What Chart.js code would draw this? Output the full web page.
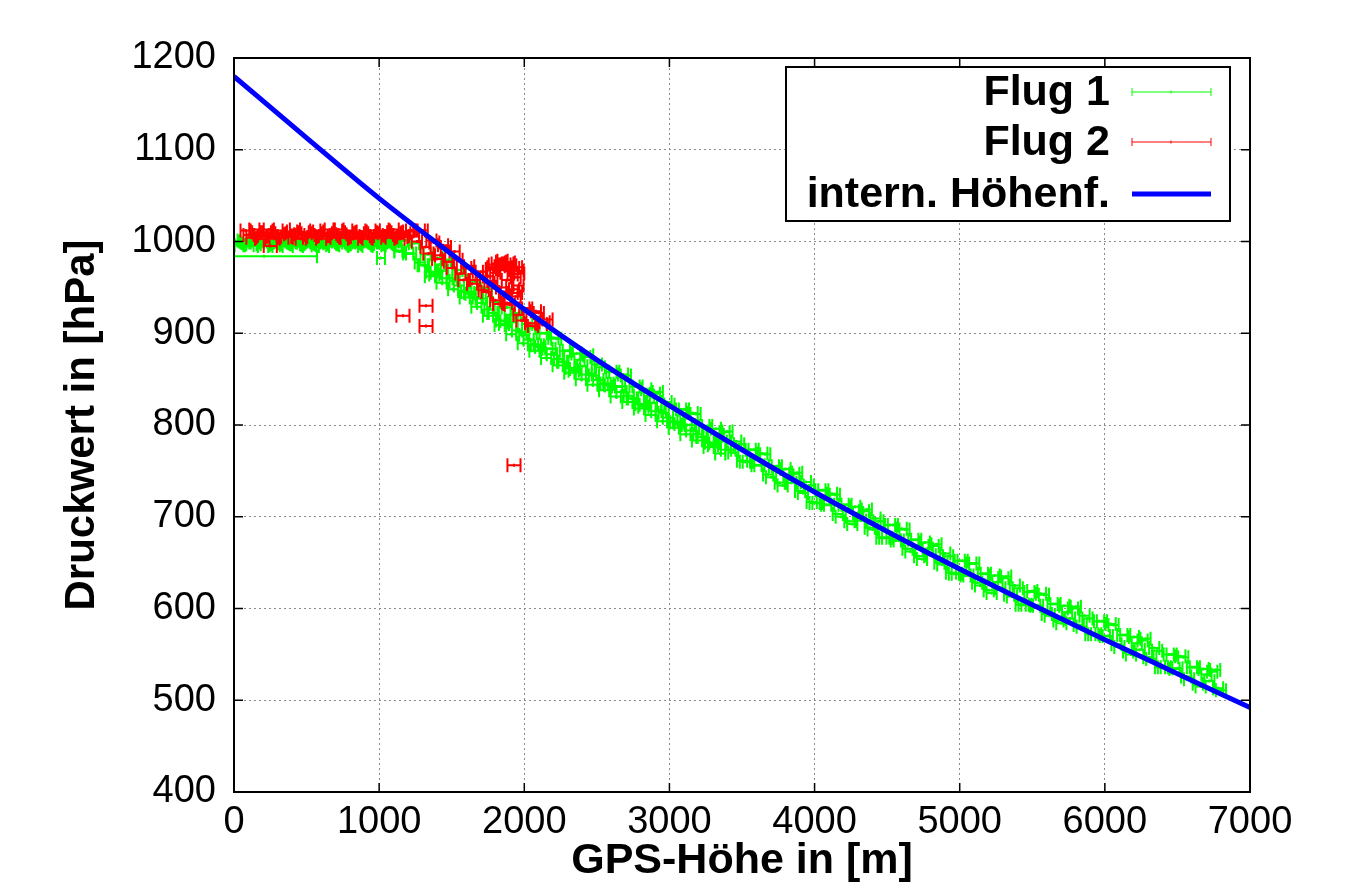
<!DOCTYPE html>
<html>
<head>
<meta charset="utf-8">
<script src="https://cdn.jsdelivr.net/npm/chart.js@4.4.1/dist/chart.umd.min.js"></script>
<style>
  html, body { margin: 0; padding: 0; background: #fff; }
  canvas { display: block; }
</style>
</head>
<body>
<canvas id="druckChart" width="1354" height="892"></canvas>
<script>
// Flug 1: GPS-Hoehe [m] / Druckwert [hPa], Messreihe a
var flug1Alt = [
  0, 40, 80, 120, 160, 200, 240, 280, 320, 360, 400, 440, 480, 520, 560, 600, 640, 680, 720, 760,
  800, 840, 880, 920, 960, 1000, 1040, 1080, 1120, 1160, 1200, 1240, 1280, 1320, 1360, 1400, 1440, 1480, 1520, 1560,
  1600, 1640, 1680, 1720, 1760, 1800, 1840, 1880, 1920, 1960, 2000, 2040, 2080, 2120, 2160, 2200, 2240, 2280, 2320, 2360,
  2400, 2440, 2480, 2520, 2560, 2600, 2640, 2680, 2720, 2760, 2800, 2840, 2880, 2920, 2960, 3000, 3040, 3080, 3120, 3160,
  3200, 3240, 3280, 3320, 3360, 3400, 3440, 3480, 3520, 3560, 3600, 3640, 3680, 3720, 3760, 3800, 3840, 3880, 3920, 3960,
  4000, 4040, 4080, 4120, 4160, 4200, 4240, 4280, 4320, 4360, 4400, 4440, 4480, 4520, 4560, 4600, 4640, 4680, 4720, 4760,
  4800, 4840, 4880, 4920, 4960, 5000, 5040, 5080, 5120, 5160, 5200, 5240, 5280, 5320, 5360, 5400, 5440, 5480, 5520, 5560,
  5600, 5640, 5680, 5720, 5760, 5800, 5840, 5880, 5920, 5960, 6000, 6040, 6080, 6120, 6160, 6200, 6240, 6280, 6320, 6360,
  6400, 6440, 6480, 6520, 6560, 6600, 6640, 6680, 6720, 6760, 6800
];
var flug1P = [
  1000, 996, 999, 997, 1001, 995, 999, 996, 1000, 997, 999, 995, 1001, 997, 999, 996, 1000, 997, 1001, 996,
  999, 997, 1000, 995, 999, 997, 1000, 996, 998, 1001, 987, 998, 977, 986, 967, 982, 968, 980, 957, 965,
  945, 957, 939, 950, 926, 934, 914, 928, 912, 922, 898, 906, 887, 900, 883, 895, 872, 881, 862, 878,
  864, 876, 854, 863, 845, 858, 842, 855, 832, 842, 823, 839, 824, 836, 813, 822, 803, 817, 800, 813,
  790, 799, 781, 796, 782, 793, 770, 779, 760, 773, 756, 769, 746, 755, 737, 752, 737, 748, 726, 734,
  715, 729, 713, 725, 703, 713, 695, 711, 696, 708, 686, 695, 677, 691, 674, 687, 665, 675, 657, 672,
  658, 670, 648, 657, 638, 652, 636, 649, 628, 638, 620, 636, 622, 635, 613, 622, 604, 618, 603, 616,
  594, 605, 587, 603, 589, 602, 580, 589, 572, 586, 570, 583, 561, 571, 553, 569, 555, 567, 545, 554,
  536, 550, 534, 548, 526, 536, 518, 534, 521, 533, 511
];
// Flug 1, Messreihe b
var flug1bAlt = [
  20, 60, 100, 140, 180, 220, 260, 300, 340, 380, 420, 460, 500, 540, 580, 620, 660, 700, 740, 780,
  820, 860, 900, 940, 980, 1020, 1060, 1100, 1140, 1180, 1220, 1260, 1300, 1340, 1380, 1420, 1460, 1500, 1540, 1580,
  1620, 1660, 1700, 1740, 1780, 1820, 1860, 1900, 1940, 1980, 2020, 2060, 2100, 2140, 2180, 2220, 2260, 2300, 2340, 2380,
  2420, 2460, 2500, 2540, 2580, 2620, 2660, 2700, 2740, 2780, 2820, 2860, 2900, 2940, 2980, 3020, 3060, 3100, 3140, 3180,
  3220, 3260, 3300, 3340, 3380, 3420, 3460, 3500, 3540, 3580, 3620, 3660, 3700, 3740, 3780, 3820, 3860, 3900, 3940, 3980,
  4020, 4060, 4100, 4140, 4180, 4220, 4260, 4300, 4340, 4380, 4420, 4460, 4500, 4540, 4580, 4620, 4660, 4700, 4740, 4780,
  4820, 4860, 4900, 4940, 4980, 5020, 5060, 5100, 5140, 5180, 5220, 5260, 5300, 5340, 5380, 5420, 5460, 5500, 5540, 5580,
  5620, 5660, 5700, 5740, 5780, 5820, 5860, 5900, 5940, 5980, 6020, 6060, 6100, 6140, 6180, 6220, 6260, 6300, 6340, 6380,
  6420, 6460, 6500, 6540, 6580, 6620, 6660, 6700, 6740, 6780
];
var flug1bP = [
  998, 1001, 996, 999, 1002, 997, 1000, 995, 998, 1001, 997, 999, 996, 1000, 998, 995, 999, 1001, 997, 999,
  995, 1000, 998, 1001, 996, 999, 997, 1000, 989, 1001, 987, 999, 974, 986, 964, 975, 978, 960, 969, 946,
  944, 956, 938, 948, 922, 933, 910, 920, 921, 901, 910, 888, 887, 900, 883, 894, 869, 881, 859, 871,
  874, 856, 866, 845, 845, 858, 842, 854, 829, 842, 820, 832, 834, 816, 825, 804, 803, 817, 800, 812,
  787, 799, 778, 789, 792, 773, 782, 761, 760, 773, 756, 768, 743, 755, 734, 745, 747, 728, 738, 716,
  715, 729, 713, 724, 700, 713, 692, 704, 706, 688, 698, 677, 677, 691, 674, 686, 662, 675, 654, 665,
  668, 650, 660, 639, 638, 652, 636, 649, 625, 638, 617, 629, 633, 615, 625, 604, 604, 619, 603, 615,
  592, 605, 584, 596, 600, 582, 592, 572, 572, 586, 570, 582, 558, 571, 550, 562, 565, 547, 557, 536,
  536, 550, 535, 547, 523, 536, 515, 528, 531, 513
];
// Flug 1, Messreihe c (Steigflug, untere Werte)
var flug1cAlt = [
  1310, 1350, 1390, 1430, 1470, 1510, 1550, 1590, 1630, 1670, 1710, 1750, 1790, 1830, 1870, 1910, 1950, 1990, 2030, 2070,
  2110, 2150, 2190, 2230, 2270, 2310, 2350, 2390, 2430, 2470, 2510, 2550, 2590, 2630, 2670, 2710, 2750, 2790, 2830, 2870,
  2910, 2950, 2990, 3030, 3070, 3110, 3150, 3190, 3230, 3270, 3310, 3350, 3390
];
var flug1cP = [
  974, 962, 966, 955, 960, 948, 952, 939, 943, 929, 933, 919, 922, 909, 913, 899, 903, 889, 893, 881,
  885, 873, 877, 865, 869, 857, 861, 850, 855, 844, 849, 838, 843, 831, 836, 825, 829, 818, 822, 811,
  815, 804, 808, 797, 801, 790, 794, 783, 787, 776, 780, 769, 773
];
var flug1Err = 35;
// Ausreisser Flug 1 (eigene Fehlergrenzen)
var flug1ExtraAlt = [207, 1010, 1130];
var flug1ExtraP = [984, 982, 990];
var flug1ExtraLo = [0, 985, 1105];
var flug1ExtraHi = [572, 1040, 1160];

// Flug 2, Messreihe a
var flug2Alt = [
  80, 120, 160, 200, 240, 280, 320, 360, 400, 440, 480, 520, 560, 600, 640, 680, 720, 760, 800, 840,
  880, 920, 960, 1000, 1040, 1080, 1120, 1160, 1200, 1240, 1280, 1320, 1360, 1400, 1440, 1480, 1520, 1560, 1600, 1640,
  1680, 1720, 1760, 1800, 1840, 1880, 1920, 1960, 2000, 2040, 2080, 2120, 2160,
  1780, 1810, 1840, 1870, 1900, 1930, 1960, 1800, 1860, 1920, 1930, 1950
];
var flug2P = [
  1012, 1004, 1010, 1006, 1013, 1003, 1009, 1005, 1011, 1004, 1010, 1007, 1012, 1003, 1009, 1006, 1013, 1004, 1010, 1005,
  1011, 1003, 1009, 1006, 1012, 1004, 1010, 1005, 1011, 1006, 1012, 994, 1001, 981, 996, 978, 989, 965, 971, 954,
  967, 947, 955, 936, 950, 933, 944, 920, 927, 911, 924, 910, 915,
  972, 976, 978, 975, 977, 971, 968, 966, 969, 964, 948, 944
];
// Flug 2, Messreihe b
var flug2bAlt = [
  100, 140, 180, 220, 260, 300, 340, 380, 420, 460, 500, 540, 580, 620, 660, 700, 740, 780, 820, 860,
  900, 940, 980, 1020, 1060, 1100, 1140, 1180, 1220, 1260, 1300, 1340, 1380, 1420, 1460, 1500, 1540, 1580, 1620, 1660,
  1700, 1740, 1780, 1820, 1860, 1900, 1940, 1980, 2020, 2060, 2100, 2140,
  1750, 1770, 1790, 1830, 1850, 1890, 1910, 1950, 1965, 1880, 1940, 1960
];
var flug2bP = [
  1007, 1013, 1003, 1010, 1005, 1012, 1004, 1008, 1013, 1003, 1009, 1005, 1011, 1006, 1013, 1004, 1008, 1012, 1003, 1009,
  1006, 1012, 1004, 1010, 1007, 1013, 1003, 1009, 1012, 1000, 1012, 987, 999, 985, 994, 971, 980, 958, 973, 958,
  967, 945, 957, 932, 945, 931, 940, 914, 927, 908, 922, 912,
  962, 970, 975, 973, 979, 976, 974, 972, 965, 958, 961, 952
];
var flug2Err = 35;
var flug2ExtraAlt = [250, 1164, 1323, 1323, 1929];
var flug2ExtraP = [995, 919, 930, 908, 756];
var flug2ExtraLo = [205, 1119, 1278, 1278, 1884];
var flug2ExtraHi = [295, 1209, 1368, 1368, 1974];

// interne Hoehenformel
var hoehenAlt = [0, 500, 1000, 1500, 2000, 2500, 3000, 3500, 4000, 4500, 5000, 5500, 6000, 6500, 7000];
var hoehenP = [1180, 1113, 1047, 986, 926, 871, 821, 773, 727, 684, 643, 604, 566, 529, 492];

var xTicks = [0, 1000, 2000, 3000, 4000, 5000, 6000, 7000];
var yTicks = [400, 500, 600, 700, 800, 900, 1000, 1100, 1200];

function errPoints(series, err, exAlt, exP, exLo, exHi) {
    var pts = [];
    series.forEach(function (s) {
        s[0].forEach(function (a, i) {
            pts.push({ x: a, y: s[1][i], xMin: a - err, xMax: a + err });
        });
    });
    exAlt.forEach(function (a, i) {
        pts.push({ x: a, y: exP[i], xMin: exLo[i], xMax: exHi[i] });
    });
    return pts;
}

var FONT = "'Liberation Sans', Arial, sans-serif";
var CAP = 7;

var errorBars = {
    id: 'errorBars',
    beforeDatasetsDraw: function (chart) {
        var ctx = chart.ctx, area = chart.chartArea;
        var xs = chart.scales.x, ys = chart.scales.y;
        ctx.save();
        ctx.beginPath();
        ctx.rect(area.left, area.top, area.right - area.left, area.bottom - area.top);
        ctx.clip();
        chart.data.datasets.forEach(function (ds) {
            if (!ds.errorBars) return;
            ctx.strokeStyle = ds.borderColor;
            ctx.lineWidth = ds.borderWidth;
            ds.data.forEach(function (pt) {
                var x0 = xs.getPixelForValue(pt.xMin);
                var x1 = xs.getPixelForValue(pt.xMax);
                var px = xs.getPixelForValue(pt.x);
                var py = ys.getPixelForValue(pt.y);
                ctx.beginPath();
                ctx.moveTo(x0, py); ctx.lineTo(x1, py);
                ctx.moveTo(x0, py - CAP); ctx.lineTo(x0, py + CAP);
                ctx.moveTo(x1, py - CAP); ctx.lineTo(x1, py + CAP);
                ctx.moveTo(px, py - 1.5); ctx.lineTo(px, py + 1.5);
                ctx.stroke();
            });
        });
        ctx.restore();
    }
};

// Rahmen, Ticks nach innen und Legende wie bei gnuplot
var frameAndLegend = {
    id: 'frameAndLegend',
    afterDraw: function (chart) {
        var ctx = chart.ctx, a = chart.chartArea;
        var xs = chart.scales.x, ys = chart.scales.y;
        ctx.save();
        ctx.strokeStyle = '#000';
        ctx.lineWidth = 1.5;
        ctx.beginPath();
        xTicks.forEach(function (v) {
            var px = xs.getPixelForValue(v);
            ctx.moveTo(px, a.bottom); ctx.lineTo(px, a.bottom - 9);
            ctx.moveTo(px, a.top); ctx.lineTo(px, a.top + 9);
        });
        yTicks.forEach(function (v) {
            var py = ys.getPixelForValue(v);
            ctx.moveTo(a.left, py); ctx.lineTo(a.left + 9, py);
            ctx.moveTo(a.right, py); ctx.lineTo(a.right - 9, py);
        });
        ctx.stroke();

        // Legende
        var bx = 786, by = 67, bw = 444, bh = 154;
        ctx.fillStyle = '#fff';
        ctx.fillRect(bx, by, bw, bh);
        ctx.lineWidth = 2;
        ctx.strokeRect(bx, by, bw, bh);
        var rows = [92, 142, 194];
        chart.data.datasets.forEach(function (ds, i) {
            var ry = rows[i];
            ctx.fillStyle = '#000';
            ctx.font = 'bold 43px ' + FONT;
            ctx.textAlign = 'right';
            ctx.textBaseline = 'middle';
            ctx.fillText(ds.label, 1110, ry + 1);
            ctx.strokeStyle = ds.borderColor;
            if (ds.errorBars) {
                ctx.lineWidth = 1;
                ctx.beginPath();
                ctx.moveTo(1132, ry); ctx.lineTo(1211, ry);
                ctx.moveTo(1132, ry - 4); ctx.lineTo(1132, ry + 4);
                ctx.moveTo(1211, ry - 4); ctx.lineTo(1211, ry + 4);
                ctx.moveTo(1171, ry - 1.5); ctx.lineTo(1171, ry + 1.5);
                ctx.stroke();
            } else {
                ctx.lineWidth = ds.borderWidth;
                ctx.beginPath();
                ctx.moveTo(1132, ry); ctx.lineTo(1211, ry);
                ctx.stroke();
            }
        });

        ctx.strokeStyle = '#000';
        ctx.lineWidth = 2;
        ctx.strokeRect(a.left, a.top, a.right - a.left, a.bottom - a.top);
        ctx.restore();
    }
};

var ctx = document.getElementById('druckChart');
var myChart = new Chart(ctx, {
    type: 'scatter',
    data: {
        datasets: [
            {
                label: 'Flug 1',
                data: errPoints([[flug1Alt, flug1P], [flug1bAlt, flug1bP], [flug1cAlt, flug1cP]], flug1Err,
                    flug1ExtraAlt, flug1ExtraP, flug1ExtraLo, flug1ExtraHi),
                borderColor: '#00ff00',
                borderWidth: 2,
                pointRadius: 0,
                showLine: false,
                errorBars: true
            },
            {
                label: 'Flug 2',
                data: errPoints([[flug2Alt, flug2P], [flug2bAlt, flug2bP]], flug2Err,
                    flug2ExtraAlt, flug2ExtraP, flug2ExtraLo, flug2ExtraHi),
                borderColor: '#ff0000',
                borderWidth: 2,
                pointRadius: 0,
                showLine: false,
                errorBars: true
            },
            {
                label: 'intern. Höhenf.',
                data: hoehenAlt.map(function (a, i) { return { x: a, y: hoehenP[i] }; }),
                borderColor: '#0000ff',
                borderWidth: 5,
                pointRadius: 0,
                showLine: true,
                cubicInterpolationMode: 'monotone'
            }
        ]
    },
    options: {
        responsive: false,
        animation: false,
        events: [],
        layout: { padding: { top: 58, right: 104, left: 0, bottom: 0 } },
        plugins: {
            legend: { display: false },
            tooltip: { enabled: false }
        },
        scales: {
            x: {
                type: 'linear',
                min: 0,
                max: 7000,
                afterFit: function (s) { s.height = 100; },
                afterBuildTicks: function (s) { s.ticks = xTicks.map(function (v) { return { value: v }; }); },
                ticks: {
                    color: '#000', font: { family: FONT, size: 38 }, padding: 8, maxRotation: 0,
                    callback: function (v) { return String(v); }
                },
                grid: { color: '#8a8a8a', lineWidth: 1, drawTicks: false },
                border: { display: false, dash: [2, 3] },
                title: {
                    display: true,
                    text: 'GPS-Höhe in [m]',
                    color: '#000',
                    font: { family: FONT, size: 43, weight: 'bold', lineHeight: 1.2 },
                    padding: { top: 0, bottom: 5 }
                }
            },
            y: {
                type: 'linear',
                min: 400,
                max: 1200,
                afterFit: function (s) { s.width = 234; },
                afterBuildTicks: function (s) { s.ticks = yTicks.map(function (v) { return { value: v }; }); },
                ticks: {
                    color: '#000', font: { family: FONT, size: 38 }, padding: 18,
                    callback: function (v) { return String(v); }
                },
                grid: { color: '#8a8a8a', lineWidth: 1, drawTicks: false },
                border: { display: false, dash: [2, 3] },
                title: {
                    display: true,
                    text: 'Druckwert in [hPa]',
                    color: '#000',
                    font: { family: FONT, size: 42, weight: 'bold', lineHeight: 1.2 },
                    padding: { top: 57, bottom: 0 }
                }
            }
        }
    },
    plugins: [errorBars, frameAndLegend]
});
</script>
</body>
</html>
